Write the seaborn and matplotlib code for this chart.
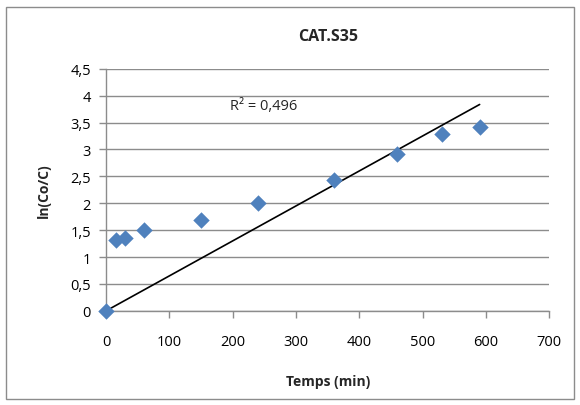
import numpy as np
import pandas as pd
import matplotlib
matplotlib.use("Agg")
import matplotlib.pyplot as plt
import seaborn as sns
from matplotlib.patches import Rectangle
from matplotlib.ticker import FuncFormatter, MultipleLocator

# data
temps = [0, 15, 30, 60, 150, 240, 360, 460, 530, 590]
ln_co_c = [0, 1.32, 1.35, 1.50, 1.69, 2.00, 2.44, 2.92, 3.28, 3.42]
r2_label = "R² = 0,496"

df = pd.DataFrame({"temps": temps, "ln": ln_co_c})

sns.set_theme(style="white")
plt.rcParams["font.family"] = ["Open Sans", "DejaVu Sans"]

fig = plt.figure(figsize=(5.8, 4.06), dpi=100)
ax = fig.add_axes([0.183, 0.232, 0.764, 0.596])

# excel-ish outer frame
fig.patches.append(Rectangle((0.01, 0.015), 0.98, 0.965, transform=fig.transFigure,
                             fill=False, edgecolor="#8c8c8c", lw=1))

# trendline through origin (least squares)
x = np.array(temps, dtype=float)
y = np.array(ln_co_c, dtype=float)
slope = (x * y).sum() / (x * x).sum()
xl = np.array([0, x.max()])
ax.plot(xl, slope * xl, color="black", lw=1.2, zorder=2)

sns.scatterplot(data=df, x="temps", y="ln", ax=ax, marker="D", s=70,
                color="#4F81BD", edgecolor="#4F81BD", linewidth=0, zorder=3,
                clip_on=False)

ax.set_xlim(0, 700)
ax.set_ylim(0, 4.5)
ax.xaxis.set_major_locator(MultipleLocator(100))
ax.yaxis.set_major_locator(MultipleLocator(0.5))
ax.yaxis.set_major_formatter(FuncFormatter(lambda v, p: f"{v:g}".replace(".", ",")))

ax.grid(axis="y", color="#8c8c8c", lw=1)
ax.set_axisbelow(True)
for s in ["top", "right"]:
    ax.spines[s].set_visible(False)
for s in ["left", "bottom"]:
    ax.spines[s].set_color("#8c8c8c")
    ax.spines[s].set_linewidth(1)

ax.tick_params(axis="both", direction="out", length=5, width=1, color="#8c8c8c",
               labelsize=10.5, labelcolor="black", pad=6)
ax.tick_params(axis="x", pad=12)
ax.tick_params(axis="y", left=True)
ax.tick_params(axis="x", bottom=True)

ax.set_xlabel("Temps (min)", fontsize=10, fontweight="bold", labelpad=18)
ax.set_ylabel("ln(Co/C)", fontsize=10, fontweight="bold", labelpad=14)
ax.set_title("CAT.S35", fontsize=11.5, fontweight="bold", pad=21)

ax.text(196, 3.81, r2_label, fontsize=10.5, va="center", ha="left")

fig.savefig("out.png", dpi=100)
